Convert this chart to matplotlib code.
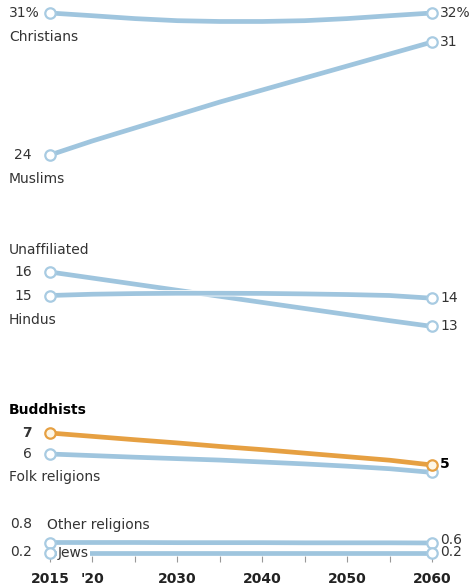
import matplotlib
matplotlib.use("Agg")
import matplotlib.pyplot as plt
import matplotlib.patheffects as pe

plt.rcParams['font.family'] = ['DejaVu Sans']

years = [2015, 2020, 2025, 2030, 2035, 2040, 2045, 2050, 2055, 2060]

# share of world population (%) (~16 px per point)
christians = [31.2, 31.03, 30.85, 30.72, 30.67, 30.67, 30.72, 30.85, 31.03, 31.2]
muslims = [24.1, 24.98, 25.79, 26.6, 27.41, 28.16, 28.91, 29.66, 30.41, 31.16]
unaffiliated = [16.0, 15.62, 15.24, 14.86, 14.48, 14.1, 13.72, 13.34, 12.96, 12.6]
hindus = [15.1, 15.18, 15.22, 15.24, 15.24, 15.23, 15.2, 15.16, 15.1, 14.93]
buddhists = [6.9, 6.69, 6.48, 6.28, 6.06, 5.86, 5.64, 5.42, 5.2, 4.9]
folk = [5.7, 5.6, 5.5, 5.41, 5.32, 5.2, 5.08, 4.94, 4.78, 4.55]
other = [0.8, 0.8, 0.8, 0.79, 0.79, 0.79, 0.78, 0.78, 0.78, 0.77]
jews = [0.2, 0.2, 0.2, 0.2, 0.2, 0.2, 0.2, 0.2, 0.2, 0.2]

start_labels = ['31%', '24', '16', '15', '7', '6', '0.8', '0.2']
end_labels = ['32%', '31', '13', '14', '5', '', '0.6', '0.2']
names = ['Christians', 'Muslims', 'Unaffiliated', 'Hindus',
         'Buddhists', 'Folk religions', 'Other religions', 'Jews']
series = [christians, muslims, unaffiliated, hindus, buddhists, folk, other, jews]

tick_years = [2015, 2020, 2025, 2030, 2035, 2040, 2045, 2050, 2055, 2060]
tick_text = ['2015', "'20", '', '2030', '', '2040', '', '2050', '', '2060']

# layout: pixel row of each line's 2015 point, label offsets in px (up = +)
W, H = 477, 588
row_px = [13, 155, 272, 295.5, 433, 454, 542.5, 552.5]
name_dy = [-24, -24, 22, -25, 23, -23, 18, 0]
end_dy = [0, 0, 0, 0, 1, 0, 3, 0]
PX_PER_PT = 16.0
AX_BOTTOM = 556
FS = 10

blue = '#9fc5de'
blue_edge = '#a8cbe2'
orange = '#e6a042'
txt = '#333333'

fig = plt.figure(figsize=(W / 100, H / 100), dpi=100)
ax = fig.add_axes([50 / W, (H - AX_BOTTOM) / H, (432 - 50) / W, AX_BOTTOM / H])
ax.set_xlim(2015, 2060)
ax.set_ylim(0, AX_BOTTOM / PX_PER_PT)

for i, vals in enumerate(series):
    shift = (AX_BOTTOM - row_px[i]) / PX_PER_PT - vals[0]
    ys = [v + shift for v in vals]
    name = names[i]
    is_b = name == 'Buddhists'
    col = orange if is_b else blue
    ecol = orange if is_b else blue_edge
    fill = '#fdf6e6' if is_b else 'white'
    weight = 'bold' if is_b else 'normal'

    ax.plot(years, ys, color=col, lw=3.4, solid_capstyle='round',
            zorder=3 if is_b else 2, clip_on=False,
            path_effects=[pe.Stroke(linewidth=4.6, foreground='white'), pe.Normal()])
    ax.plot([years[0], years[-1]], [ys[0], ys[-1]], 'o', ms=7.5, mfc=fill,
            mec=ecol, mew=1.6, zorder=4 if is_b else 3, clip_on=False)

    # start value
    lab = start_labels[i]
    if lab.endswith('%'):
        ax.annotate(lab, (years[0], ys[0]), xytext=(-41, 0), textcoords='offset pixels',
                    ha='left', va='center', fontsize=FS, color=txt)
    elif name == 'Other religions':
        ax.annotate(lab, (years[0], ys[0]), xytext=(-18, name_dy[i]),
                    textcoords='offset pixels', ha='right', va='center',
                    fontsize=FS, color=txt)
    else:
        ax.annotate(lab, (years[0], ys[0]), xytext=(-18, 0), textcoords='offset pixels',
                    ha='right', va='center', fontsize=FS, color=txt, fontweight=weight)

    # end value
    if end_labels[i]:
        ax.annotate(end_labels[i], (years[-1], ys[-1]),
                    xytext=(8, end_dy[i]), textcoords='offset pixels',
                    ha='left', va='center', fontsize=FS,
                    color='black' if is_b else txt, fontweight=weight)

    # group name
    if name == 'Other religions':
        ax.annotate(name, (years[0], ys[0]), xytext=(-3, name_dy[i]),
                    textcoords='offset pixels', ha='left', va='center',
                    fontsize=FS, color=txt)
    elif name == 'Jews':
        ax.annotate(name, (years[0], ys[0]), xytext=(8, 0), textcoords='offset pixels',
                    ha='left', va='center', fontsize=FS, color=txt, zorder=5,
                    bbox=dict(boxstyle='square,pad=0.05', fc='white', ec='none'))
    else:
        ax.annotate(name, (years[0], ys[0]), xytext=(-41, name_dy[i]),
                    textcoords='offset pixels', ha='left', va='center',
                    fontsize=FS, color='black' if is_b else txt, fontweight=weight)

for s in ax.spines.values():
    s.set_visible(False)
ax.set_yticks([])
ax.set_xticks(tick_years)
ax.set_xticklabels(tick_text, fontweight='bold', fontsize=FS, color='#222222')
ax.tick_params(axis='x', length=4.5, width=0.8, color='#999999', pad=7)

fig.savefig('out.png', dpi=100)
